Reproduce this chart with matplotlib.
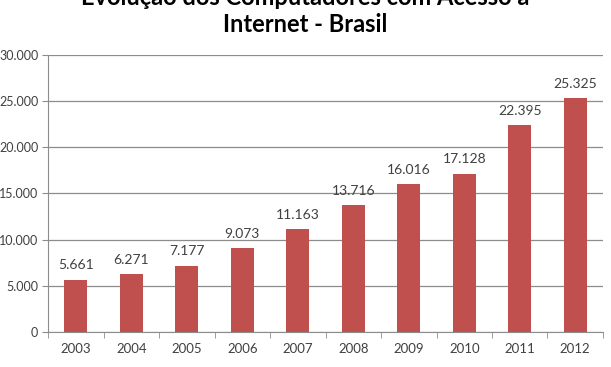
import numpy as np
import matplotlib.pyplot as plt

# anos e numero de computadores (milhares)
anos = ['2003', '2004', '2005', '2006', '2007', '2008', '2009', '2010', '2011', '2012']
computadores = [5661, 6271, 7177, 9073, 11163, 13716, 16016, 17128, 22395, 25325]
rotulos = ['5.661', '6.271', '7.177', '9.073', '11.163', '13.716', '16.016', '17.128', '22.395', '25.325']
y_ticks = [0, 5000, 10000, 15000, 20000, 25000, 30000]
y_labels = ['0', '5.000', '10.000', '15.000', '20.000', '25.000', '30.000']

plt.rcParams['font.family'] = ['Lato', 'DejaVu Sans']

fig = plt.figure(figsize=(6.11, 3.67), dpi=100)
ax = fig.add_axes([0.0786, 0.0954, 0.9083, 0.755])

x = np.arange(len(anos))
ax.bar(x, computadores, width=0.42, color='#C0504D', zorder=3)

for xi, val, lab in zip(x, computadores, rotulos):
    ax.text(xi, val + 900, lab, ha='center', va='bottom', fontsize=10, color='#404040')

ax.set_xlim(-0.5, len(anos) - 0.5)
ax.set_ylim(0, 30000)
ax.set_yticks(y_ticks)
ax.set_yticklabels(y_labels)
ax.set_xticks(x)
ax.set_xticklabels(anos)
ax.set_xticks(np.arange(-0.5, len(anos)), minor=True)

ax.grid(axis='y', color='#8c8c8c', linewidth=0.9, zorder=0)
for s in ['top', 'right']:
    ax.spines[s].set_visible(False)
ax.spines['left'].set_color('#8c8c8c')
ax.spines['bottom'].set_color('#8c8c8c')
ax.tick_params(axis='y', length=4, color='#8c8c8c', labelsize=9, labelcolor='#404040', pad=3)
ax.tick_params(axis='x', which='major', length=0, labelsize=9.5, labelcolor='#404040', pad=8)
ax.tick_params(axis='x', which='minor', length=4, color='#8c8c8c')

# titulo em duas linhas (a primeira fica parcialmente fora da imagem, como no original)
fig.text(0.5, 1 - 5 / 367, 'Evolução dos Computadores com Acesso à',
         ha='center', va='baseline', fontsize=17, fontweight='bold', color='black')
fig.text(0.5, 1 - 32 / 367, 'Internet - Brasil',
         ha='center', va='baseline', fontsize=17, fontweight='bold', color='black')

fig.savefig('out.png', dpi=100)
